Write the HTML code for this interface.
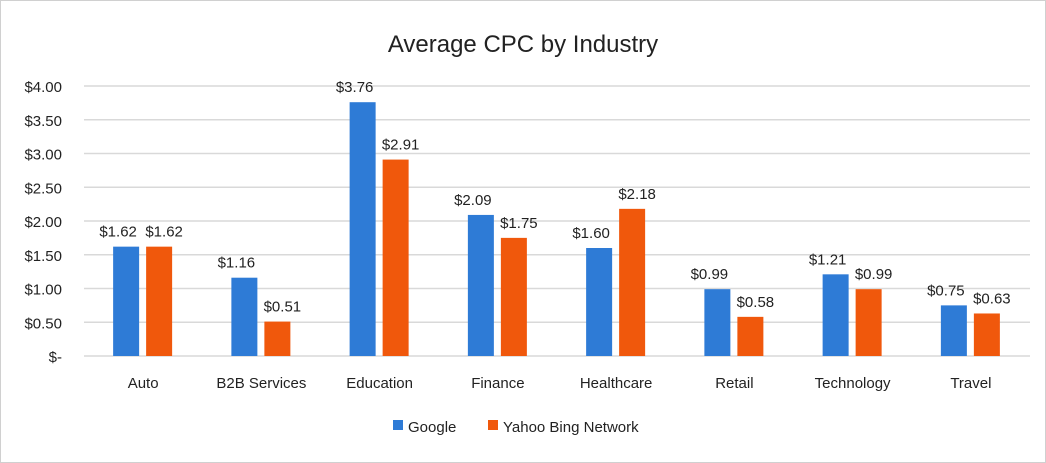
<!DOCTYPE html>
<html><head><meta charset="utf-8"><style>
body{margin:0;background:#fff;}
svg{display:block;font-family:"Liberation Sans",sans-serif;}
</style></head><body>
<svg width="1046" height="463">
<rect x="0.5" y="0.5" width="1045" height="462" fill="#fff" stroke="#d0d0d0"/>
<text x="523" y="52" text-anchor="middle" font-size="24" fill="#222">Average CPC by Industry</text>
<g id="grid"></g><g id="bars"></g><g id="labels"></g>
<g>
<rect x="393" y="420" width="10" height="10" fill="#2e7bd6"/>
<text x="408" y="432" font-size="15" fill="#222">Google</text>
<rect x="488" y="420" width="10" height="10" fill="#f0580c"/>
<text x="503" y="432" font-size="15" fill="#222">Yahoo Bing Network</text>
</g>
</svg>
<script>
const categories=["Auto","B2B Services","Education","Finance","Healthcare","Retail","Technology","Travel"];
const google=[1.62,1.16,3.76,2.09,1.60,0.99,1.21,0.75];
const yahoo=[1.62,0.51,2.91,1.75,2.18,0.58,0.99,0.63];
const ticks=[0,0.5,1,1.5,2,2.5,3,3.5,4];
const tickLabels=["$-","$0.50","$1.00","$1.50","$2.00","$2.50","$3.00","$3.50","$4.00"];
const NS="http://www.w3.org/2000/svg";
const x0=84,x1=1030,y0=356,yTop=86,yMax=4;
const bw=(x1-x0)/categories.length;
function y(v){return y0-(v/yMax)*(y0-yTop);}
function cx(i){return x0+bw*(i+0.5);}
function mk(tag,attrs,parent){const e=document.createElementNS(NS,tag);for(const k in attrs)e.setAttribute(k,attrs[k]);document.getElementById(parent).appendChild(e);return e;}
ticks.forEach((t,i)=>{
 const l=mk("line",{x1:x0,x2:x1,y1:y(t),y2:y(t),stroke:"#d9d9d9","stroke-width":1.5},"grid");
 
 
 const tx=mk("text",{x:62,y:y(t)+6,"text-anchor":"end","font-size":15,fill:"#222"},"grid");
 tx.textContent=tickLabels[i];
 
 
});
function fmt(v){return "$"+v.toFixed(2);}
categories.forEach((c,i)=>{
 const c0=cx(i);
 const gb=mk("rect",{x:c0-30,y:y(google[i]),width:26,height:y0-y(google[i]),fill:"#2e7bd6"},"bars");
 
 
 const yb=mk("rect",{x:c0+3,y:y(yahoo[i]),width:26,height:y0-y(yahoo[i]),fill:"#f0580c"},"bars");
 
 
 const gl=mk("text",{x:c0-25,y:y(google[i])-10,"text-anchor":"middle","font-size":15,fill:"#222"},"labels");
 gl.textContent=fmt(google[i]);
 
 
 const yl=mk("text",{x:c0+21,y:y(yahoo[i])-10,"text-anchor":"middle","font-size":15,fill:"#222"},"labels");
 yl.textContent=fmt(yahoo[i]);
 
 
 const cl=mk("text",{x:c0,y:388,"text-anchor":"middle","font-size":15,fill:"#222"},"labels");
 cl.textContent=c;
 
 
});
</script>
</body></html>
